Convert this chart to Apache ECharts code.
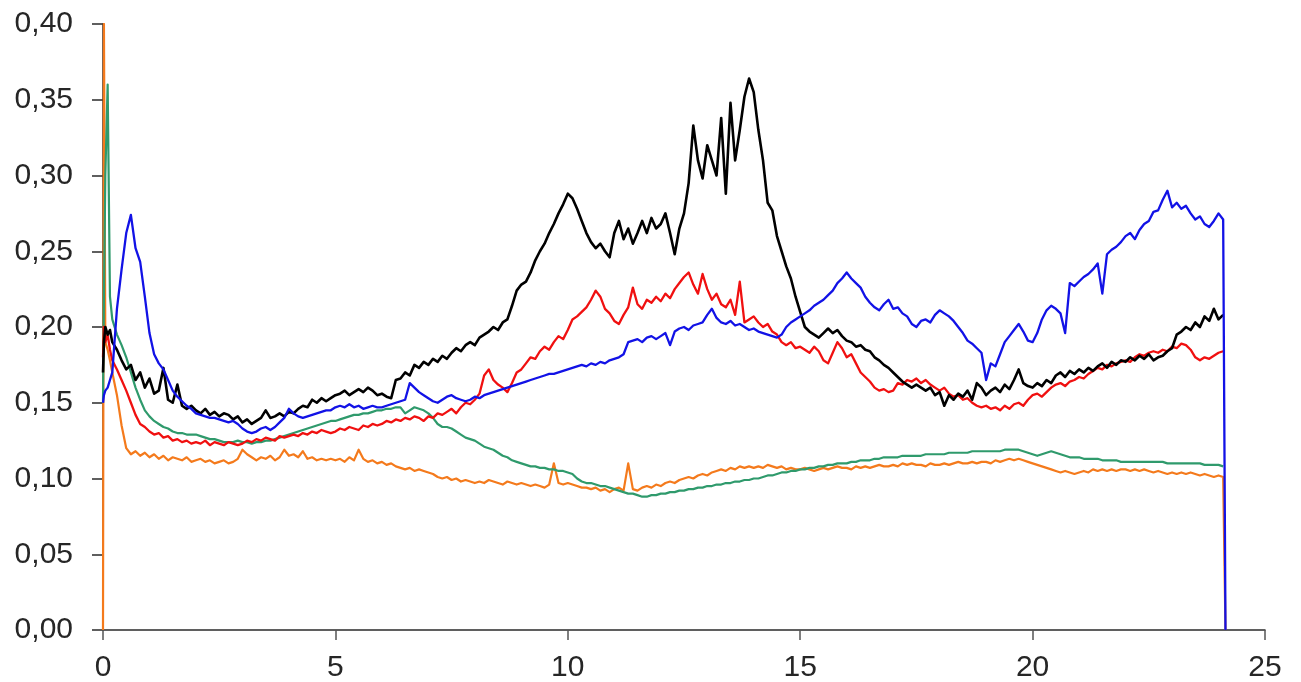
<!DOCTYPE html>
<html>
<head>
<meta charset="utf-8">
<script src="https://cdn.jsdelivr.net/npm/echarts@6/dist/echarts.min.js"></script>
<style>
html,body{margin:0;padding:0;background:#fff;}
#chart{width:1301px;height:682px;}
</style>
</head>
<body>
<div id="chart"></div>
<script>
const xs = [
0, 0.02, 0.05, 0.1, 0.15, 0.2,
0.3, 0.4, 0.5, 0.6, 0.7, 0.8, 0.9,
1.0, 1.1, 1.2, 1.3, 1.4, 1.5, 1.6, 1.7, 1.8, 1.9,
2.0, 2.1, 2.2, 2.3, 2.4, 2.5, 2.6, 2.7, 2.8, 2.9,
3.0, 3.1, 3.2, 3.3, 3.4, 3.5, 3.6, 3.7, 3.8, 3.9,
4.0, 4.1, 4.2, 4.3, 4.4, 4.5, 4.6, 4.7, 4.8, 4.9,
5.0, 5.1, 5.2, 5.3, 5.4, 5.5, 5.6, 5.7, 5.8, 5.9,
6.0, 6.1, 6.2, 6.3, 6.4, 6.5, 6.6, 6.7, 6.8, 6.9,
7.0, 7.1, 7.2, 7.3, 7.4, 7.5, 7.6, 7.7, 7.8, 7.9,
8.0, 8.1, 8.2, 8.3, 8.4, 8.5, 8.6, 8.7, 8.8, 8.9,
9.0, 9.1, 9.2, 9.3, 9.4, 9.5, 9.6, 9.7, 9.8, 9.9,
10.0, 10.1, 10.2, 10.3, 10.4, 10.5, 10.6, 10.7, 10.8, 10.9,
11.0, 11.1, 11.2, 11.3, 11.4, 11.5, 11.6, 11.7, 11.8, 11.9,
12.0, 12.1, 12.2, 12.3, 12.4, 12.5, 12.6, 12.7, 12.8, 12.9,
13.0, 13.1, 13.2, 13.3, 13.4, 13.5, 13.6, 13.7, 13.8, 13.9,
14.0, 14.1, 14.2, 14.3, 14.4, 14.5, 14.6, 14.7, 14.8, 14.9,
15.0, 15.1, 15.2, 15.3, 15.4, 15.5, 15.6, 15.7, 15.8, 15.9,
16.0, 16.1, 16.2, 16.3, 16.4, 16.5, 16.6, 16.7, 16.8, 16.9,
17.0, 17.1, 17.2, 17.3, 17.4, 17.5, 17.6, 17.7, 17.8, 17.9,
18.0, 18.1, 18.2, 18.3, 18.4, 18.5, 18.6, 18.7, 18.8, 18.9,
19.0, 19.1, 19.2, 19.3, 19.4, 19.5, 19.6, 19.7, 19.8, 19.9,
20.0, 20.1, 20.2, 20.3, 20.4, 20.5, 20.6, 20.7, 20.8, 20.9,
21.0, 21.1, 21.2, 21.3, 21.4, 21.5, 21.6, 21.7, 21.8, 21.9,
22.0, 22.1, 22.2, 22.3, 22.4, 22.5, 22.6, 22.7, 22.8, 22.9,
23.0, 23.1, 23.2, 23.3, 23.4, 23.5, 23.6, 23.7, 23.8, 23.9,
24.0, 24.1, 24.15
];

const blackSeries = [
0.17, 0.19, 0.2, 0.195, 0.198, 0.19,
0.185, 0.178, 0.172, 0.175, 0.165, 0.17, 0.16,
0.166, 0.156, 0.158, 0.173, 0.152, 0.15, 0.162, 0.148, 0.146, 0.148,
0.145, 0.143, 0.146, 0.142, 0.144, 0.141, 0.143, 0.142, 0.139, 0.141,
0.137, 0.139, 0.136, 0.138, 0.14, 0.145, 0.14, 0.141, 0.143, 0.141,
0.144, 0.143, 0.146, 0.148, 0.147, 0.152, 0.15, 0.153, 0.151, 0.153,
0.155, 0.156, 0.158, 0.155, 0.157, 0.159, 0.157, 0.16, 0.158, 0.155,
0.156, 0.154, 0.153, 0.165, 0.166, 0.17, 0.168, 0.175, 0.173, 0.177,
0.175, 0.179, 0.177, 0.181, 0.179, 0.183, 0.186, 0.184, 0.188, 0.19,
0.188, 0.193, 0.195, 0.197, 0.2, 0.198, 0.203, 0.205, 0.214, 0.224,
0.228, 0.23, 0.236, 0.244, 0.25, 0.255, 0.262, 0.268, 0.275, 0.281,
0.288, 0.285, 0.278, 0.27, 0.262, 0.256, 0.252, 0.255, 0.25, 0.246,
0.262, 0.27, 0.258, 0.265, 0.255, 0.262, 0.27, 0.262, 0.272, 0.265,
0.268, 0.275, 0.262, 0.248, 0.265, 0.275, 0.295, 0.333, 0.31, 0.298,
0.32, 0.31, 0.3, 0.338, 0.288, 0.348, 0.31, 0.33, 0.352, 0.364,
0.355, 0.33, 0.31, 0.282, 0.277, 0.26, 0.25, 0.24, 0.232, 0.22,
0.21, 0.2, 0.197, 0.195, 0.193, 0.196, 0.199, 0.196, 0.198, 0.194,
0.191, 0.19, 0.187, 0.188, 0.185, 0.184, 0.18, 0.178, 0.175, 0.173,
0.17, 0.167, 0.164, 0.162, 0.16, 0.162, 0.16, 0.158, 0.16, 0.155,
0.157, 0.148, 0.155, 0.152, 0.156, 0.154, 0.158, 0.152, 0.163, 0.16,
0.155, 0.158, 0.16, 0.157, 0.162, 0.159, 0.165, 0.172, 0.163, 0.161,
0.16, 0.163, 0.161, 0.165, 0.163, 0.168, 0.17, 0.167, 0.171, 0.169,
0.172, 0.17, 0.173, 0.171, 0.174, 0.176, 0.173, 0.177, 0.175, 0.178,
0.177, 0.18, 0.178, 0.181, 0.179, 0.182, 0.178, 0.18, 0.181, 0.184,
0.186, 0.195, 0.197, 0.2, 0.198, 0.203, 0.2, 0.207, 0.204, 0.212,
0.205, 0.208, null
];

const redSeries = [
0.18, 0.2, 0.19, 0.195, 0.185, 0.178,
0.172, 0.165, 0.158, 0.15, 0.142, 0.136, 0.134,
0.131, 0.129, 0.13, 0.127, 0.128, 0.125, 0.126, 0.124, 0.125, 0.123,
0.124, 0.123, 0.125, 0.122, 0.124, 0.123, 0.122, 0.124, 0.123, 0.122,
0.123, 0.125, 0.124, 0.126, 0.125, 0.127, 0.126, 0.125, 0.128, 0.127,
0.128, 0.129, 0.128, 0.13, 0.129, 0.131, 0.13, 0.132, 0.131, 0.13,
0.131, 0.133, 0.132, 0.134, 0.133, 0.132, 0.135, 0.134, 0.136, 0.135,
0.136, 0.138, 0.137, 0.139, 0.138, 0.14, 0.139, 0.141, 0.14, 0.138,
0.141, 0.14, 0.143, 0.142, 0.144, 0.146, 0.143, 0.147, 0.15, 0.149,
0.152, 0.156, 0.168, 0.172, 0.165, 0.162, 0.16, 0.157, 0.163, 0.17,
0.172, 0.176, 0.18, 0.179, 0.184, 0.187, 0.185, 0.19, 0.194, 0.192,
0.198, 0.205, 0.207, 0.21, 0.213, 0.218, 0.224, 0.22, 0.212, 0.209,
0.204, 0.202, 0.208, 0.213, 0.226, 0.215, 0.212, 0.218, 0.216, 0.22,
0.217, 0.222, 0.219, 0.225, 0.229, 0.233, 0.236, 0.228, 0.222, 0.235,
0.225, 0.218, 0.222, 0.215, 0.213, 0.218, 0.208, 0.23, 0.203, 0.205,
0.207, 0.203, 0.2, 0.202, 0.197, 0.195, 0.19, 0.188, 0.19, 0.186,
0.187, 0.185, 0.183, 0.187, 0.184, 0.178, 0.176, 0.183, 0.19, 0.186,
0.18, 0.182, 0.176, 0.17, 0.167, 0.164, 0.16, 0.158, 0.159, 0.157,
0.158, 0.163, 0.162, 0.165, 0.164, 0.166, 0.163, 0.165, 0.162, 0.16,
0.158, 0.16, 0.156, 0.154, 0.155, 0.152, 0.153, 0.15, 0.148, 0.147,
0.148, 0.146, 0.147, 0.145, 0.148, 0.146, 0.149, 0.15, 0.148, 0.152,
0.155, 0.156, 0.154, 0.157, 0.16, 0.162, 0.163, 0.161, 0.164, 0.165,
0.167, 0.166, 0.169, 0.171, 0.173, 0.172, 0.175, 0.174, 0.176, 0.177,
0.178, 0.177, 0.18, 0.182, 0.181, 0.183, 0.184, 0.183, 0.185, 0.184,
0.187, 0.186, 0.189, 0.188, 0.185, 0.18, 0.178, 0.18, 0.179, 0.181,
0.183, 0.184, null
];

const blueSeries = [
0.15, 0.155, 0.158, 0.16, 0.165, 0.17,
0.212, 0.238, 0.262, 0.274, 0.252, 0.243, 0.22,
0.196, 0.182, 0.176, 0.172, 0.165, 0.158, 0.154, 0.151, 0.148, 0.146,
0.143, 0.142, 0.141, 0.14, 0.14, 0.139, 0.138, 0.137, 0.138, 0.136,
0.133, 0.131, 0.13, 0.131, 0.133, 0.134, 0.132, 0.134, 0.137, 0.14,
0.146, 0.143, 0.141, 0.14, 0.141, 0.142, 0.143, 0.144, 0.145, 0.145,
0.147, 0.148, 0.147, 0.149, 0.147, 0.148, 0.146, 0.147, 0.148, 0.147,
0.147, 0.148, 0.149, 0.15, 0.151, 0.152, 0.163, 0.16, 0.157, 0.155,
0.153, 0.151, 0.15, 0.152, 0.154, 0.155, 0.153, 0.152, 0.151, 0.152,
0.154, 0.153, 0.155, 0.156, 0.157, 0.158, 0.159, 0.16, 0.161, 0.162,
0.163, 0.164, 0.165, 0.166, 0.167, 0.168, 0.169, 0.169, 0.17, 0.171,
0.172, 0.173, 0.174, 0.175, 0.174, 0.176, 0.175, 0.177, 0.176, 0.178,
0.179, 0.18, 0.182, 0.19, 0.191, 0.192, 0.19, 0.193, 0.194, 0.192,
0.194, 0.196, 0.188, 0.197, 0.199, 0.2, 0.198, 0.201, 0.202, 0.203,
0.208, 0.212, 0.206, 0.203, 0.202, 0.204, 0.201, 0.202, 0.2, 0.198,
0.199, 0.197, 0.196, 0.195, 0.194, 0.193, 0.195, 0.2, 0.203, 0.205,
0.207, 0.209, 0.211, 0.214, 0.216, 0.218, 0.221, 0.224, 0.229, 0.232,
0.236, 0.232, 0.229, 0.226, 0.22, 0.216, 0.213, 0.211, 0.215, 0.218,
0.212, 0.213, 0.209, 0.207, 0.202, 0.2, 0.204, 0.205, 0.203, 0.208,
0.211, 0.209, 0.207, 0.204, 0.2, 0.196, 0.191, 0.189, 0.186, 0.183,
0.165, 0.176, 0.174, 0.182, 0.19, 0.194, 0.198, 0.202, 0.197, 0.191,
0.19, 0.196, 0.205, 0.211, 0.214, 0.212, 0.209, 0.196, 0.229, 0.227,
0.23, 0.233, 0.235, 0.238, 0.242, 0.222, 0.248, 0.251, 0.253, 0.256,
0.26, 0.262, 0.258, 0.264, 0.268, 0.27, 0.276, 0.277, 0.284, 0.29,
0.279, 0.282, 0.278, 0.28, 0.275, 0.271, 0.273, 0.268, 0.266, 0.27,
0.275, 0.271, 0
];

const greenSeries = [
0.15, 0.22, 0.3, 0.36, 0.22, 0.205,
0.195, 0.188, 0.18, 0.17, 0.16, 0.152, 0.145,
0.141, 0.138, 0.136, 0.134, 0.133, 0.131, 0.13, 0.13, 0.129, 0.129,
0.129, 0.128, 0.127, 0.126, 0.126, 0.125, 0.124, 0.124, 0.124, 0.125,
0.124, 0.124, 0.123, 0.124, 0.124, 0.125, 0.125, 0.126, 0.127, 0.128,
0.129, 0.13, 0.131, 0.132, 0.133, 0.134, 0.135, 0.136, 0.137, 0.138,
0.138, 0.139, 0.14, 0.141, 0.142, 0.142, 0.143, 0.143, 0.144, 0.145,
0.145, 0.146, 0.146, 0.147, 0.147, 0.143, 0.145, 0.147, 0.146, 0.145,
0.143, 0.14, 0.136, 0.134, 0.134, 0.133, 0.131, 0.129, 0.127, 0.126,
0.125, 0.123, 0.121, 0.12, 0.119, 0.117, 0.115, 0.114, 0.112, 0.111,
0.11, 0.109, 0.108, 0.108, 0.107, 0.107, 0.106, 0.106, 0.105, 0.105,
0.104, 0.103, 0.1, 0.098, 0.097, 0.097, 0.096, 0.095, 0.095, 0.094,
0.093, 0.092, 0.091, 0.09, 0.09, 0.089, 0.088, 0.088, 0.089, 0.089,
0.09, 0.09, 0.091, 0.091, 0.092, 0.092, 0.093, 0.093, 0.094, 0.094,
0.095, 0.095, 0.096, 0.096, 0.097, 0.097, 0.098, 0.098, 0.099, 0.099,
0.1, 0.1, 0.101, 0.102, 0.102, 0.103, 0.104, 0.104, 0.105, 0.105,
0.106, 0.106, 0.107, 0.107, 0.108, 0.108, 0.109, 0.109, 0.11, 0.11,
0.11, 0.111, 0.111, 0.112, 0.112, 0.112, 0.113, 0.113, 0.114, 0.114,
0.114, 0.114, 0.115, 0.115, 0.115, 0.115, 0.115, 0.116, 0.116, 0.116,
0.116, 0.116, 0.117, 0.117, 0.117, 0.117, 0.117, 0.118, 0.118, 0.118,
0.118, 0.118, 0.118, 0.118, 0.119, 0.119, 0.119, 0.119, 0.118, 0.117,
0.116, 0.115, 0.116, 0.117, 0.118, 0.117, 0.116, 0.115, 0.114, 0.114,
0.114, 0.113, 0.113, 0.113, 0.113, 0.112, 0.112, 0.112, 0.112, 0.111,
0.111, 0.111, 0.111, 0.111, 0.111, 0.111, 0.111, 0.111, 0.111, 0.11,
0.11, 0.11, 0.11, 0.11, 0.11, 0.11, 0.11, 0.109, 0.109, 0.109,
0.109, 0.108, null
];

const orangeSeries = [
0, 0.4, 0.19, 0.185, 0.178, 0.17,
0.155, 0.135, 0.12, 0.116, 0.118, 0.115, 0.117,
0.114, 0.116, 0.113, 0.115, 0.112, 0.114, 0.113, 0.112, 0.114, 0.111,
0.112, 0.113, 0.111, 0.112, 0.11, 0.111, 0.112, 0.11, 0.111, 0.113,
0.119, 0.116, 0.114, 0.112, 0.114, 0.113, 0.115, 0.112, 0.114, 0.119,
0.115, 0.116, 0.114, 0.118, 0.113, 0.114, 0.112, 0.113, 0.112, 0.113,
0.112, 0.113, 0.111, 0.114, 0.112, 0.119, 0.113, 0.111, 0.112, 0.11,
0.111, 0.109, 0.11, 0.108, 0.107, 0.106, 0.107, 0.105, 0.106, 0.105,
0.104, 0.103, 0.101, 0.1, 0.101, 0.099, 0.1, 0.098, 0.099, 0.098,
0.097, 0.098, 0.097, 0.099, 0.098, 0.097, 0.096, 0.098, 0.097, 0.096,
0.097, 0.096, 0.095, 0.096, 0.095, 0.094, 0.096, 0.11, 0.097, 0.096,
0.097, 0.096, 0.095, 0.094, 0.094, 0.093, 0.094, 0.092, 0.093, 0.091,
0.093, 0.094, 0.092, 0.11, 0.093, 0.092, 0.094, 0.095, 0.094, 0.096,
0.095, 0.097, 0.098, 0.097, 0.099, 0.1, 0.101, 0.1, 0.102, 0.103,
0.102, 0.104, 0.105, 0.106, 0.105, 0.107, 0.106, 0.108, 0.107, 0.108,
0.107, 0.108, 0.107, 0.109, 0.108, 0.107, 0.108, 0.106, 0.107, 0.106,
0.106, 0.107, 0.106, 0.105, 0.106, 0.107, 0.106, 0.107, 0.108, 0.107,
0.107, 0.106, 0.108, 0.107, 0.108, 0.107, 0.108, 0.109, 0.108, 0.108,
0.109, 0.108, 0.11, 0.109, 0.11, 0.109, 0.109, 0.108, 0.11, 0.109,
0.109, 0.11, 0.109, 0.11, 0.111, 0.11, 0.11, 0.111, 0.11, 0.111,
0.111, 0.11, 0.112, 0.111, 0.112, 0.113, 0.112, 0.113, 0.112, 0.111,
0.11, 0.109, 0.108, 0.107, 0.106, 0.105, 0.104, 0.105, 0.104, 0.103,
0.104, 0.105, 0.104, 0.106, 0.105, 0.106, 0.105, 0.106, 0.105, 0.106,
0.106, 0.105, 0.106, 0.105, 0.106, 0.105, 0.104, 0.105, 0.104, 0.103,
0.104, 0.103, 0.104, 0.103, 0.104, 0.103, 0.102, 0.103, 0.102, 0.101,
0.102, 0.101, 0
];

const xTicks = [0, 5, 10, 15, 20, 25];
const yTicks = ['0,00', '0,05', '0,10', '0,15', '0,20', '0,25', '0,30', '0,35', '0,40'];

function pairs(vals) {
  const out = [];
  for (let i = 0; i < xs.length; i++) {
    if (vals[i] !== null && vals[i] !== undefined) out.push([xs[i], vals[i]]);
  }
  return out;
}

const chart = echarts.init(document.getElementById('chart'), null, { renderer: 'canvas' });
const labelFont = { fontFamily: 'Liberation Sans, Arial, sans-serif', color: '#262626' };

function mkLine(name, vals, color, width) {
  return {
    name: name, type: 'line', data: pairs(vals), showSymbol: false, symbol: 'none',
    lineStyle: { color: color, width: width, join: 'round' }, itemStyle: { color: color },
    clip: true, z: 2
  };
}

chart.setOption({
  animation: false,
  backgroundColor: '#ffffff',
  grid: { left: 103, right: 36, top: 24, bottom: 52, containLabel: false, outerBoundsMode: 'none' },
  xAxis: {
    type: 'value', min: 0, max: 25, interval: 5,
    axisLine: { show: true, lineStyle: { color: '#2b2b2b', width: 1.5 } },
    axisTick: { show: true, length: 10, lineStyle: { color: '#555', width: 1.5 } },
    splitLine: { show: false },
    axisLabel: Object.assign({ fontSize: 30, margin: 23,
      formatter: function (v) { return xTicks.indexOf(v) >= 0 ? String(v) : ''; } }, labelFont)
  },
  yAxis: {
    type: 'value', min: 0, max: 0.4, interval: 0.05,
    axisLine: { show: true, lineStyle: { color: '#2b2b2b', width: 1.5 } },
    axisTick: { show: true, length: 11, lineStyle: { color: '#2b2b2b', width: 1.5 } },
    splitLine: { show: false },
    axisLabel: Object.assign({ fontSize: 30, margin: 30,
      formatter: function (v) { return yTicks[Math.round(v / 0.05)]; } }, labelFont)
  },
  series: [
    mkLine('orange', orangeSeries, '#f47a1c', 2.2),
    mkLine('green', greenSeries, '#2f9a6c', 2.2),
    mkLine('red', redSeries, '#f01010', 2.3),
    mkLine('black', blackSeries, '#000000', 2.6),
    mkLine('blue', blueSeries, '#1212e6', 2.3)
  ]
});
</script>
</body>
</html>
